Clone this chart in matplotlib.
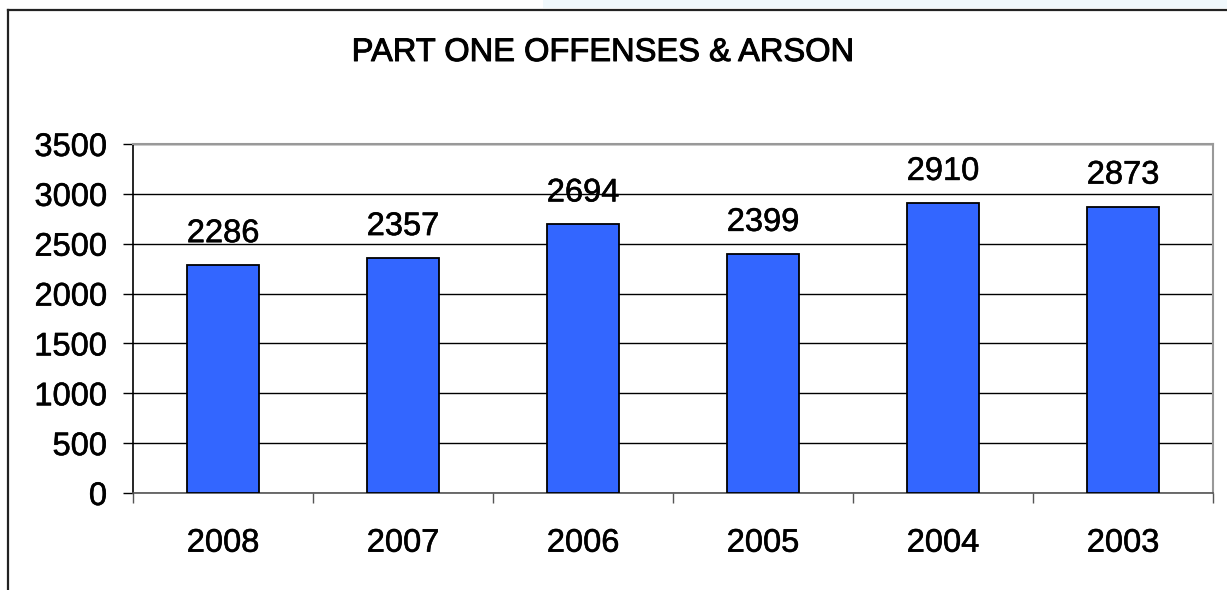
import matplotlib
matplotlib.use("Agg")
import matplotlib.pyplot as plt
from matplotlib.patches import Rectangle
from matplotlib.lines import Line2D
import matplotlib.patheffects as pe
import numpy as np

plt.rcParams['font.family'] = ['Liberation Sans', 'DejaVu Sans']

years = ["2008", "2007", "2006", "2005", "2004", "2003"]
offenses = [2286, 2357, 2694, 2399, 2910, 2873]
yticks = [0, 500, 1000, 1500, 2000, 2500, 3000, 3500]
title = "PART ONE OFFENSES & ARSON"

W, H = 1227, 590
fig = plt.figure(figsize=(W / 100, H / 100), dpi=100)
fig.patch.set_facecolor("white")

# decorative frame and light strip at top
fig.patches.append(Rectangle((543 / W, 1 - 8 / H), 1 - 543 / W, 8 / H,
                             transform=fig.transFigure, facecolor="#F0F8FC",
                             edgecolor="none", zorder=0))
fig.lines.append(Line2D([7.5 / W, 1], [1 - 9.5 / H, 1 - 9.5 / H], transform=fig.transFigure,
                        color="#222222", linewidth=1.6))
fig.lines.append(Line2D([7.5 / W, 7.5 / W], [0, 1 - 9.5 / H], transform=fig.transFigure,
                        color="#222222", linewidth=1.6))

left, right, top, bottom = 133 / W, 1213 / W, 1 - 144 / H, 1 - 493 / H
ax = fig.add_axes([left, bottom, right - left, top - bottom])

x = np.arange(len(years))
bars = ax.bar(x, offenses, width=0.4, color="#3366FF", edgecolor="black",
              linewidth=1.3, zorder=3)

thick = [pe.withStroke(linewidth=0.4, foreground="black")]

for xi, v in zip(x, offenses):
    ax.annotate(str(v), (xi, v), xytext=(0, 16.5), textcoords="offset points",
                ha="center", va="baseline", fontsize=23.5, color="black", zorder=4,
                path_effects=thick)

ax.set_xlim(-0.5, len(years) - 0.5)
ax.set_ylim(0, 3500)
ax.set_yticks(yticks)
ax.set_yticklabels([str(t) for t in yticks])
ax.yaxis.grid(True, color="black", linewidth=1.0, zorder=1)
ax.set_axisbelow(True)

ax.set_xticks(x)
ax.set_xticklabels(years)
ax.set_xticks(np.arange(len(years) + 1) - 0.5, minor=True)
ax.tick_params(axis="x", which="major", length=0, pad=25, labelsize=23.5)
ax.tick_params(axis="x", which="minor", length=7.2, width=1.0, color="#555555", direction="out")
ax.tick_params(axis="y", length=7.2, width=1.0, color="black", pad=11.5, labelsize=23.5)
for lbl in ax.get_xticklabels() + ax.get_yticklabels():
    lbl.set_path_effects(thick)

ax.spines["left"].set_color("black")
ax.spines["left"].set_linewidth(1.2)
ax.spines["bottom"].set_color("#555555")
ax.spines["bottom"].set_linewidth(1.2)
for s in ("top", "right"):
    ax.spines[s].set_color("#999999")
    ax.spines[s].set_linewidth(1.5)

fig.text(602.5 / W, 1 - 61 / H, title, ha="center", va="baseline", fontsize=23.5,
         color="black", path_effects=[pe.withStroke(linewidth=0.7, foreground="black")])

fig.savefig("out.png", dpi=100)
